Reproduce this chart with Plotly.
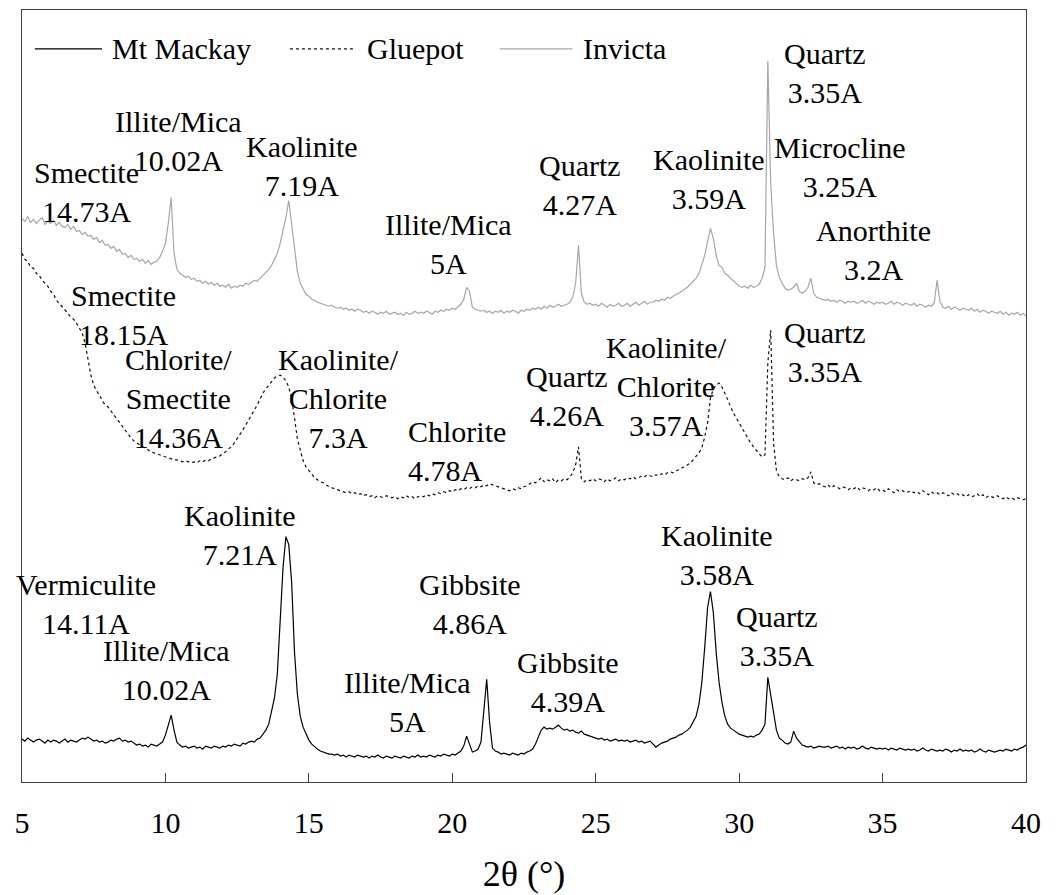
import plotly.graph_objects as go

# 2-theta scan positions (degrees), 0.1 degree steps
THETA = [round(5.0 + 0.1 * i, 1) for i in range(351)]

# Stacked diffractogram intensities (offset, arbitrary units), one value per 0.1 degree
MT_MACKAY = [
    43, 41, 44, 42, 40, 42, 43, 41, 39, 42,
    40, 42, 41, 39, 41, 43, 40, 42, 41, 40,
    42, 44, 43, 45, 43, 41, 42, 40, 41, 39,
    40, 42, 41, 43, 44, 41, 42, 40, 41, 39,
    37, 38, 36, 37, 35, 38, 37, 36, 38, 40,
    47, 58, 67, 52, 40, 37, 35, 36, 34, 35,
    36, 34, 35, 33, 36, 35, 34, 36, 35, 34,
    36, 35, 37, 36, 38, 37, 36, 39, 38, 40,
    41, 40, 43, 44, 48, 52, 58, 70, 84, 108,
    160, 215, 246, 238, 200, 130, 88, 66, 55, 48,
    42, 38, 35, 33, 31, 30, 29, 28, 28, 27,
    28, 26, 27, 25, 27, 26, 25, 27, 26, 25,
    26, 24, 26, 25, 27, 25, 24, 26, 25, 24,
    26, 25, 24, 26, 25, 24, 26, 25, 27, 25,
    26, 25, 27, 26, 25, 27, 26, 28, 27, 26,
    28, 27, 29, 31, 36, 46, 38, 30, 31, 33,
    40, 70, 103, 60, 34, 31, 30, 28, 29, 28,
    27, 29, 28, 27, 29, 28, 30, 31, 33, 38,
    45, 52, 55, 53, 54, 53, 55, 57, 54, 52,
    53, 51, 52, 50, 49, 51, 48, 47, 46, 45,
    44, 43, 44, 42, 43, 41, 42, 43, 41, 42,
    41, 42, 40, 41, 42, 40, 41, 39, 40, 41,
    38, 35, 37, 39, 40, 41, 43, 44, 45, 47,
    48, 50, 52, 55, 60, 66, 78, 100, 135, 175,
    191, 170, 130, 100, 80, 66, 58, 54, 52, 50,
    48, 47, 46, 45, 46, 45, 47, 48, 52, 58,
    105, 88, 72, 52, 44, 42, 39, 38, 40, 51,
    44, 40, 37, 36, 35, 36, 34, 35, 36, 35,
    35, 36, 34, 35, 36, 34, 35, 33, 35, 34,
    35, 33, 34, 36, 34, 33, 35, 34, 33, 34,
    33, 34, 32, 34, 33, 32, 34, 33, 32, 33,
    32, 33, 31, 32, 34, 32, 31, 33, 32, 31,
    32, 31, 33, 32, 30, 32, 31, 33, 31, 32,
    31, 32, 30, 31, 33, 31, 30, 32, 31, 30,
    31, 32, 31, 33, 32, 31, 33, 32, 34, 35,
    37,
]

GLUEPOT = [
    530, 524, 522, 516, 515, 510, 508, 503, 500, 497,
    492, 489, 483, 480, 476, 473, 470, 466, 464, 460,
    455, 450, 440, 425, 408, 398, 392, 388, 382, 378,
    376, 372, 368, 365, 360, 357, 352, 349, 345, 342,
    340, 338, 336, 335, 333, 331, 330, 329, 328, 327,
    326, 325, 324, 323, 323, 322, 321, 322, 321, 320,
    321, 320, 322, 321, 323, 322, 324, 325, 326, 327,
    329, 331, 334, 336, 340, 344, 348, 353, 358, 363,
    368, 372, 378, 384, 390, 394, 398, 402, 405, 407,
    408, 406, 402, 396, 384, 365, 344, 333, 322, 316,
    312, 308, 305, 303, 301, 300, 298, 296, 295, 294,
    293, 292, 291, 290, 291, 289, 290, 288, 289, 287,
    288, 286, 287, 285, 287, 286, 285, 287, 286, 285,
    286, 284, 286, 285, 287, 285, 286, 284, 286, 287,
    286, 288, 287, 289, 288, 290, 289, 291, 290, 292,
    291, 293, 292, 294, 293, 295, 294, 296, 295, 297,
    296, 298, 297, 299, 298, 297, 296, 295, 294, 293,
    292, 294, 293, 295, 294, 296, 297, 299, 301, 300,
    302, 305, 301, 303, 302, 304, 300, 303, 302, 304,
    303, 306, 310, 318, 336, 304, 301, 303, 302, 304,
    302, 304, 303, 301, 304, 302, 303, 305, 302, 304,
    303, 305, 304, 306, 304, 305, 307, 306, 308, 307,
    306, 308, 307, 309, 308, 310, 311, 310, 312, 313,
    315, 316, 318, 320, 323, 326, 330, 335, 346, 360,
    385, 394, 398, 400, 396, 390, 383, 376, 370, 365,
    360, 354, 349, 345, 340, 336, 332, 329, 326, 328,
    420, 453, 340, 312, 306, 304, 303, 305, 302, 304,
    303, 302, 304, 303, 305, 311, 300, 298, 299, 297,
    296, 298, 295, 297, 296, 294, 296, 295, 293, 295,
    294, 296, 293, 295, 294, 292, 294, 293, 295, 292,
    293, 291, 294, 292, 290, 293, 291, 292, 290, 291,
    292, 290, 291, 289, 292, 290, 288, 291, 289, 290,
    288, 290, 289, 287, 290, 288, 289, 287, 288, 286,
    288, 286, 287, 289, 286, 288, 285, 287, 286, 285,
    287, 285, 284, 286, 284, 285, 283, 285, 284, 283,
    284,
]

INVICTA = [
    565, 562, 567, 561, 564, 560, 563, 566, 559, 562,
    560, 563, 558, 561, 557, 556, 559, 554, 557, 552,
    553, 549, 551, 547, 548, 544, 546, 541, 543, 538,
    539, 535, 537, 532, 534, 529, 530, 526, 528, 524,
    525, 522, 524, 520, 523, 519, 521, 522, 526, 532,
    540, 560, 586, 530, 514, 510, 508, 506, 507, 504,
    505, 502, 503, 500, 502, 499, 501, 498, 500, 497,
    498, 496, 499, 495, 497, 496, 498, 497, 500, 499,
    501, 503, 502, 505, 507, 510, 514, 518, 524, 530,
    540, 552, 566, 583, 558, 532, 512, 500, 494, 489,
    487, 484, 483, 481, 480, 479, 478, 477, 478, 476,
    475, 476, 474, 475, 473, 474, 472, 474, 473, 471,
    472, 470, 472, 471, 469, 471, 470, 472, 469, 470,
    471, 469, 470, 468, 471, 469, 470, 472, 470, 471,
    470, 472, 471, 469, 472, 471, 473, 472, 474, 473,
    475, 474, 477, 479, 484, 496, 492, 476, 474, 473,
    472, 473, 471, 472, 470, 472, 471, 473, 470, 472,
    471, 473, 472, 470, 473, 472, 474, 473, 475, 474,
    476, 474, 477, 475, 478, 476, 477, 479, 477, 478,
    479, 481, 486, 500, 538, 490, 481, 479, 480, 478,
    479, 477, 480, 478, 476, 479, 477, 478, 480, 477,
    478, 480, 477, 479, 481, 478, 480, 482, 479, 481,
    481, 483, 482, 484, 483, 486, 485, 487, 489, 490,
    492, 494, 496, 499, 502, 505, 510, 518, 528, 542,
    555, 545, 528, 518, 516, 510, 508, 505, 502, 500,
    497, 496, 497, 495, 498, 496, 497, 499, 505, 516,
    723, 600, 550, 518, 506, 500, 495, 493, 494, 496,
    500, 492, 490, 492, 496, 505, 490, 486, 485, 484,
    483, 484, 482, 483, 481, 483, 482, 480, 482, 481,
    482, 480, 481, 483, 480, 482, 481, 479, 481, 480,
    481, 479, 480, 482, 479, 481, 480, 478, 480, 479,
    478, 480, 477, 479, 478, 476, 478, 477, 480, 503,
    482, 476, 475, 477, 474, 476, 475, 473, 475, 474,
    473, 475, 472, 474, 471, 473, 472, 470, 472, 471,
    470, 472, 469, 471, 468, 470, 469, 471, 468, 470,
    467,
]

X_TICKS = [5, 10, 15, 20, 25, 30, 35, 40]

SERIES_NAMES = ["Mt Mackay", "Gluepot", "Invicta"]
SERIES_VALUES = [MT_MACKAY, GLUEPOT, INVICTA]
SERIES_COLORS = ["#000000", "#111111", "#a6a6a6"]
SERIES_DASH = ["solid", "dot", "solid"]

# Peak identifications: text, 2-theta position, height
PEAK_TEXT = [
    # Invicta
    ("Smectite<br>14.73A", 7.26, 592),
    ("Illite/Mica<br>10.02A", 10.47, 643),
    ("Kaolinite<br>7.19A", 14.76, 618),
    ("Illite/Mica<br>5A", 19.88, 539),
    ("Quartz<br>4.27A", 24.44, 599),
    ("Kaolinite<br>3.59A", 28.94, 605),
    ("Quartz<br>3.35A", 33.01, 711),
    ("Microcline<br>3.25A", 33.50, 617),
    ("Anorthite<br>3.2A", 34.69, 533),
    # Gluepot
    ("Smectite<br>18.15A", 8.55, 468),
    ("Chlorite/<br>Smectite<br>14.36A", 10.44, 384),
    ("Kaolinite/<br>Chlorite<br>7.3A", 16.05, 384),
    ("Quartz<br>4.26A", 23.99, 387),
    ("Kaolinite/<br>Chlorite<br>3.57A", 27.47, 397),
    ("Quartz<br>3.35A", 32.98, 431),
    # Mt Mackay
    ("Kaolinite<br>7.21A", 12.60, 248),
    ("Vermiculite<br>14.11A", 7.23, 178),
    ("Illite/Mica<br>10.02A", 10.05, 112),
    ("Gibbsite<br>4.86A", 20.61, 178),
    ("Illite/Mica<br>5A", 18.45, 80),
    ("Gibbsite<br>4.39A", 24.02, 100),
    ("Kaolinite<br>3.58A", 29.22, 228),
    ("Quartz<br>3.35A", 31.31, 146),
]
LEFT_TEXT = [("Chlorite<br>4.78A", 18.40, 332)]

FONT = "Liberation Serif"
FS = 30
AXIS_COLOR = "#404040"
TEXT_FONT = dict(family=FONT, size=FS, color="#000000")

fig = go.Figure()
for name, vals, col, dash in zip(SERIES_NAMES, SERIES_VALUES, SERIES_COLORS, SERIES_DASH):
    assert len(vals) == len(THETA)
    fig.add_trace(go.Scatter(
        x=THETA, y=vals, mode="lines", name=name,
        line=dict(color=col, width=1.2, dash=dash),
        showlegend=False,
    ))

for text, x, y in PEAK_TEXT:
    fig.add_annotation(x=x, y=y, xref="x", yref="y", text=text, showarrow=False,
                       xanchor="center", yanchor="middle", align="center", font=TEXT_FONT)
for text, x, y in LEFT_TEXT:
    fig.add_annotation(x=x, y=y, xref="x", yref="y", text=text, showarrow=False,
                       xanchor="left", yanchor="middle", align="left", font=TEXT_FONT)

# Legend: line samples (2-theta spans along the top row) with labels
LEGEND_H = 735
LEGEND_SPANS = [(5.45, 7.79, 8.06), (14.34, 16.6, 16.94), (21.65, 24.19, 24.5)]
for (x0, x1, xt), name, col, dash in zip(LEGEND_SPANS, SERIES_NAMES, SERIES_COLORS, SERIES_DASH):
    fig.add_trace(go.Scatter(x=[x0, x1], y=[LEGEND_H, LEGEND_H], mode="lines",
                             line=dict(color=col, width=1.2, dash=dash),
                             showlegend=False, hoverinfo="skip"))
    fig.add_annotation(x=xt, y=LEGEND_H, xref="x", yref="y", text=name, showarrow=False,
                       xanchor="left", yanchor="middle", font=TEXT_FONT)

fig.update_layout(
    width=1057, height=895,
    margin=dict(l=22, r=31, t=9, b=112),
    paper_bgcolor="white", plot_bgcolor="white",
    showlegend=False,
    font=TEXT_FONT,
)
fig.update_xaxes(
    range=[5, 40], tickvals=X_TICKS,
    ticks="inside", ticklen=9, tickwidth=1.3, tickcolor=AXIS_COLOR,
    showline=True, linecolor=AXIS_COLOR, linewidth=1.3, mirror=True,
    showgrid=False, zeroline=False,
    ticklabelstandoff=14,
    title=dict(text="2θ (°)", standoff=22),
)
fig.update_yaxes(
    range=[0, 774], showticklabels=False, ticks="",
    showline=True, linecolor=AXIS_COLOR, linewidth=1.3, mirror=True,
    showgrid=False, zeroline=False,
)

fig.write_html("out.html")
